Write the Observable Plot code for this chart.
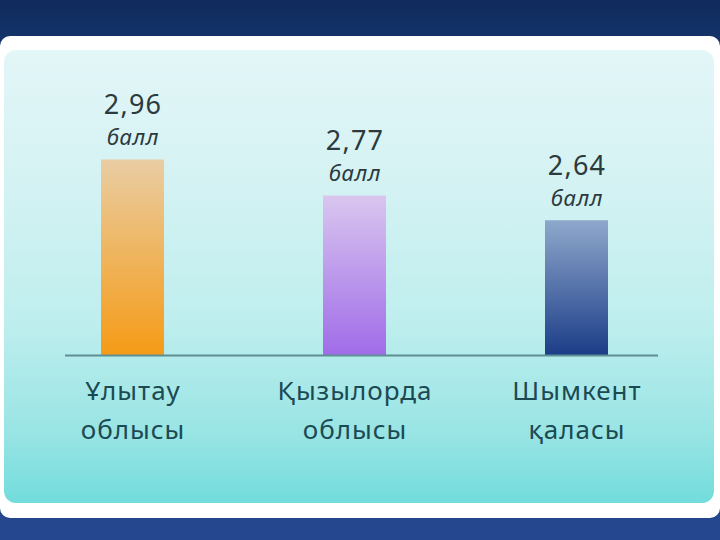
<!DOCTYPE html>
<html>
<head>
<meta charset="utf-8">
<script src="https://cdn.jsdelivr.net/npm/d3@7"></script>
<script src="https://cdn.jsdelivr.net/npm/@observablehq/plot@0.6"></script>
<style>
  html, body { margin: 0; padding: 0; }
  body { width: 720px; height: 540px; overflow: hidden; font-family: "Noto Sans", sans-serif; }
  #stage {
    position: relative; width: 720px; height: 540px;
    background: linear-gradient(180deg, #0f2a5b 0%, #14356c 8%, #1a3c7a 60%, #24478f 100%);
  }
  #frame {
    position: absolute; left: 0; top: 36px; width: 720px; height: 482px;
    background: #ffffff; border-radius: 10px;
  }
  #card {
    position: absolute; left: 4px; top: 50px; width: 710px; height: 453px;
    border-radius: 12px;
    background: linear-gradient(180deg, #e3f6f8 0%, #d4f2f3 30%, #bfeeee 60%, #98e4e4 85%, #72dcdc 100%);
  }
  #chart { position: absolute; left: 0; top: 0; }
  #chart svg { background: transparent; overflow: visible; }
  #chart svg g[aria-label="x-axis tick label"] text { letter-spacing: 1px; }
  #chart svg g.vals text { letter-spacing: 1.2px; }
  #chart svg g.vals text tspan:nth-child(2) { font-size: 22px; font-style: italic; letter-spacing: 0.8px; }
</style>
</head>
<body>
<div id="stage">
  <div id="frame"></div>
  <div id="card"></div>
  <div id="chart"></div>
</div>
<script>
const categories = ["Ұлытау облысы", "Қызылорда облысы", "Шымкент қаласы"];
const values = [2.96, 2.77, 2.64];
const unitLabel = "балл";
const gradientIds = ["gOrange", "gPurple", "gBlue"];
const gradientStops = [
  ["#e9cda3", "#f59b16"],
  ["#d9c6ef", "#a06ce8"],
  ["#8fa8cc", "#1c3d88"]
];

const data = categories.map((c, i) => ({category: c, value: values[i]}));
const yMin = 1.93;
const fmt = v => v.toFixed(2).replace(".", ",");

const plot = Plot.plot({
  width: 720,
  height: 540,
  marginTop: 57,
  marginBottom: 185,
  marginLeft: 100,
  marginRight: 112,
  style: {background: "transparent", fontFamily: "Noto Sans, sans-serif"},
  x: {domain: categories, paddingInner: 0.717, paddingOuter: 0, label: null},
  y: {domain: [yMin, 3.5], axis: null},
  color: {type: "ordinal", domain: categories, range: gradientIds.map(id => `url(#${id})`)},
  marks: [
    Plot.barY(data, {x: "category", y1: yMin, y2: "value", fill: "category"}),
    Plot.ruleY([yMin], {stroke: "#5f8f93", strokeWidth: 2, insetLeft: -35, insetRight: -50}),
    Plot.text(data, {x: "category", y: "value", text: d => fmt(d.value) + "\n" + unitLabel,
      dy: -8, fontSize: 27, lineHeight: 1.409, fill: "#2b3a3d", lineAnchor: "bottom", className: "vals"}),
    Plot.axisX({tickSize: 0, tickPadding: 17, fontSize: 26, lineHeight: 1.5, label: null,
      tickFormat: d => d.replace(" ", "\n"), fill: "#1b4a53", lineAnchor: "top"})
  ]
});

const svg = d3.select(plot);
const defs = svg.insert("defs", ":first-child");
gradientIds.forEach((id, i) => {
  const g = defs.append("linearGradient").attr("id", id).attr("x1", 0).attr("y1", 0).attr("x2", 0).attr("y2", 1);
  g.append("stop").attr("offset", "0%").attr("stop-color", gradientStops[i][0]);
  g.append("stop").attr("offset", "100%").attr("stop-color", gradientStops[i][1]);
});
document.getElementById("chart").appendChild(plot);
</script>
</body>
</html>
